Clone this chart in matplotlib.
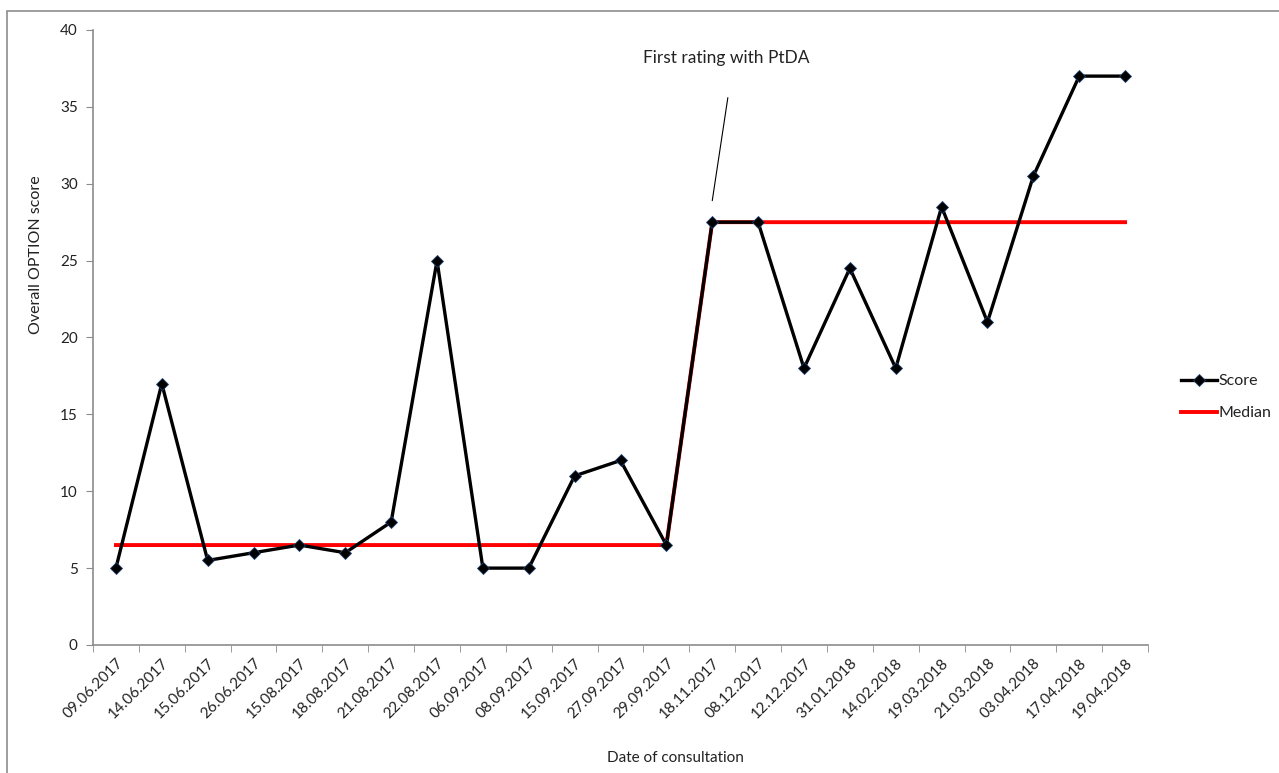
import numpy as np
import matplotlib.pyplot as plt
from matplotlib.patches import Rectangle

dates = ["09.06.2017", "14.06.2017", "15.06.2017", "26.06.2017", "15.08.2017",
         "18.08.2017", "21.08.2017", "22.08.2017", "06.09.2017", "08.09.2017",
         "15.09.2017", "27.09.2017", "29.09.2017", "18.11.2017", "08.12.2017",
         "12.12.2017", "31.01.2018", "14.02.2018", "19.03.2018", "21.03.2018",
         "03.04.2018", "17.04.2018", "19.04.2018"]
score = [5, 17, 5.5, 6, 6.5, 6, 8, 25, 5, 5, 11, 12, 6.5,
         27.5, 27.5, 18, 24.5, 18, 28.5, 21, 30.5, 37, 37]
median = [6.5] * 13 + [27.5] * 10

plt.rcParams['font.family'] = ['Lato', 'DejaVu Sans']

fig = plt.figure(figsize=(12.79, 7.73), dpi=100)
ax = fig.add_axes([0.0727, 0.1656, 0.8249, 0.7956])

# outer frame around the chart area
fig.patches.append(Rectangle((7 / 1279, -0.1), 1.2, 1.1 - 11 / 773,
                             transform=fig.transFigure, fill=False,
                             edgecolor='#8c8c8c', linewidth=1.2))

x = np.arange(len(dates))
ax.plot(x, score, color='black', linewidth=2.4, marker='D', markersize=6,
        markerfacecolor='black', markeredgecolor='#1f3f6f',
        markeredgewidth=0.6, label='Score', zorder=3)
ax.plot(x, median, color='#ff0000', linewidth=2.8, label='Median', zorder=2)

ax.set_xlim(-0.5, len(dates) - 0.5)
ax.set_ylim(0, 40)
ax.set_yticks(np.arange(0, 41, 5))
ax.set_xticks(x)
ax.set_xticklabels(dates, rotation=45, ha='right', rotation_mode='anchor',
                   fontsize=11, color='#222222')
ax.set_xticks(np.arange(-0.5, len(dates), 1), minor=True)
ax.tick_params(axis='x', which='major', length=0, pad=8)
ax.tick_params(axis='x', which='minor', length=5, color='#8c8c8c', direction='out')
ax.tick_params(axis='y', length=5, color='#8c8c8c', labelsize=11,
               labelcolor='#222222', pad=6)

for side in ['top', 'right']:
    ax.spines[side].set_visible(False)
for side in ['left', 'bottom']:
    ax.spines[side].set_color('#8c8c8c')
    ax.spines[side].set_linewidth(1.2)

ax.set_ylabel('Overall OPTION score', fontsize=11.5, color='#222222')
ax.yaxis.set_label_coords(-0.047, 0.634)
ax.set_xlabel('Date of consultation', fontsize=11, color='#222222')
ax.xaxis.set_label_coords(0.552, -0.172)

# note marking the first consultation with the decision aid
ax.text(13.3, 38.2, 'First rating with PtDA', fontsize=12.5, color='#222222',
        ha='center', va='center')
ax.annotate('', xy=(13.0, 28.9), xytext=(13.34, 35.6),
            arrowprops=dict(arrowstyle='-', color='black', linewidth=0.8,
                            shrinkA=0, shrinkB=0))

leg = ax.legend(loc='center left', bbox_to_anchor=(1.018, 0.403), frameon=False,
                fontsize=11.5, handlelength=2.2, handletextpad=0.1,
                labelspacing=1.1)
for t in leg.get_texts():
    t.set_color('#222222')

fig.savefig('out.png', dpi=100)
